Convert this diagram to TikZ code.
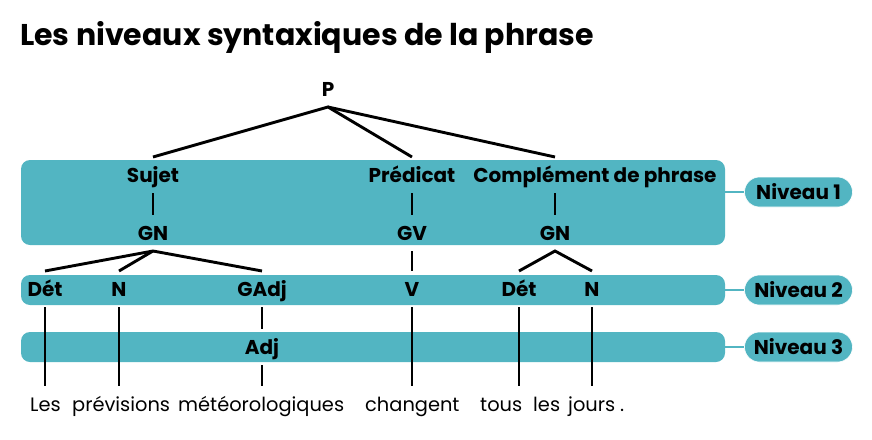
\documentclass[tikz,border=0pt]{standalone}
\usepackage{fontspec}
\setmainfont{Poppins}
\usepackage{xcolor}
\definecolor{bleuniv}{HTML}{52B5C2}

\tikzset{
  niv/.style={fill=bleuniv, rounded corners=9pt, inner sep=0pt},
  tag/.style={fill=bleuniv, draw=white, line width=0.6pt, rounded corners=15pt,
    minimum width=108pt, minimum height=30pt, inner sep=0pt,
    font=\bfseries\fontsize{20}{24}\selectfont},
  cat/.style={font=\bfseries\fontsize{20}{24}\selectfont, inner sep=0pt,
    outer xsep=0pt, outer ysep=11pt, text height=14pt, text depth=0pt},
  mot/.style={font=\fontsize{19.4}{23}\selectfont, inner sep=0pt, anchor=base west},
  branche/.style={line width=2.9pt},
}

\begin{document}
\begin{tikzpicture}[x=1pt,y=-1pt]
            \useasboundingbox (0,0) rectangle (872,439);
            % Title
            \node[anchor=base west, inner sep=0pt, font=\bfseries\fontsize{30}{36}\selectfont]
              (titre) at (20,45) {Les niveaux syntaxiques de la phrase};
            % Level bands
            \node[niv, minimum width=704pt, minimum height=85pt] (niv1) at (373,202.5) {};
            \node[niv, minimum width=704pt, minimum height=30pt] (niv2) at (373,290) {};
            \node[niv, minimum width=704pt, minimum height=30pt] (niv3) at (373,347) {};
            % Level tags
            \node[tag] (tag1) at (798.5,192) {Niveau 1};
            \node[tag] (tag2) at (798.5,290) {Niveau 2};
            \node[tag] (tag3) at (798.5,347) {Niveau 3};
            \draw[bleuniv, line width=2pt] (niv1.east |- tag1) -- (tag1.west);
            \draw[bleuniv, line width=2pt] (niv2.east |- tag2) -- (tag2.west);
            \draw[bleuniv, line width=2pt] (niv3.east |- tag3) -- (tag3.west);
            % Tree labels
            \node[cat] (p) at (328,89) {P};
            \node[cat] (sujet) at (153,175) {Sujet};
            \node[cat] (pred) at (412,175) {Prédicat};
            \node[cat] (comp) at (595,175) {Complément de phrase};
            \node[cat] (gn1) at (153,233) {GN};
            \node[cat] (gv) at (412,233) {GV};
            \node[cat] (gn2) at (555,233) {GN};
            \node[cat] (det1) at (45,289) {Dét};
            \node[cat] (n1) at (119,289) {N};
            \node[cat] (gadj) at (262,289) {GAdj};
            \node[cat] (v) at (412,289) {V};
            \node[cat] (det2) at (519,289) {Dét};
            \node[cat] (n2) at (592,289) {N};
            \node[cat] (adj) at (262,347) {Adj};
            % Sentence
            \node[mot] (w1) at (30,411) {Les};
            \node[mot] (w2) at (72,411) {prévisions};
            \node[mot] (w3) at (178,411) {météorologiques};
            \node[mot] (w4) at (365,411) {changent};
            \node[mot] (w5) at (480,411) {tous};
            \node[mot] (w6) at (533,411) {les};
            \node[mot] (w7) at (568,411) {jours};
            \node[mot] (w8) at (620,411) {.};
            \coordinate (fin) at (0,386);
            % Branches
            \draw[branche] (sujet.north) -- (p.south) -- (pred.north);
            \draw[branche] (p.south) -- (gn2 |- comp.north);
            \draw[branche] (sujet.south) -- (gn1.north);
            \draw[branche] (pred.south) -- (gv.north);
            \draw[branche] (gn2 |- comp.south) -- (gn2.north);
            \draw[branche] (det1.north) -- (gn1.south) -- (gadj.north);
            \draw[branche] (gn1.south) -- (n1.north);
            \draw[branche] (gv.south) -- (v.north);
            \draw[branche] (det2.north) -- (gn2.south) -- (n2.north);
            \draw[branche] (gadj.south) -- (adj.north);
            \draw[branche] (adj.south) -- (adj |- fin);
            \draw[branche] (det1.south) -- (det1 |- fin);
            \draw[branche] (n1.south) -- (n1 |- fin);
            \draw[branche] (v.south) -- (v |- fin);
            \draw[branche] (det2.south) -- (det2 |- fin);
            \draw[branche] (n2.south) -- (n2 |- fin);
        \end{tikzpicture}
\end{document}
